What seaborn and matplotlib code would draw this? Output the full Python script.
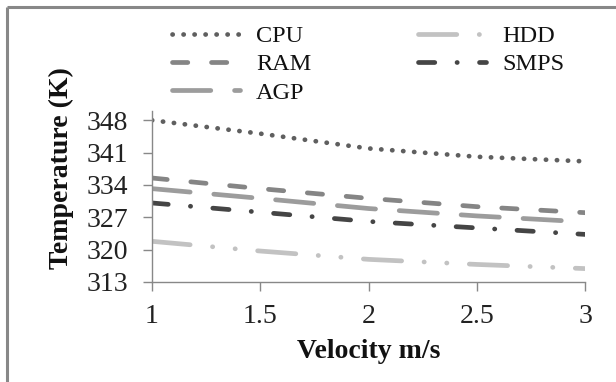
import matplotlib
matplotlib.use("Agg")
import matplotlib.pyplot as plt
import seaborn as sns
import pandas as pd
from matplotlib.lines import Line2D

velocity = [1.0, 1.5, 2.0, 2.5, 3.0]
cpu = [348.0, 345.1, 341.9, 340.1, 339.1]
ram = [335.5, 333.2, 331.1, 329.3, 328.0]
agp = [333.2, 331.1, 328.9, 327.3, 326.0]
smps = [330.1, 328.1, 326.1, 324.7, 323.3]
hdd = [321.8, 319.7, 317.9, 316.8, 315.9]
series_names = ["CPU", "RAM", "AGP", "HDD", "SMPS"]
series_values = [cpu, ram, agp, hdd, smps]
y_ticks = [313, 320, 327, 334, 341, 348]
x_ticks = [1, 1.5, 2, 2.5, 3]

colors = {"CPU": "#5f5f5f", "RAM": "#858585", "AGP": "#9c9c9c",
          "HDD": "#c2c2c2", "SMPS": "#454545"}
dashes = {"CPU": (0.05, 2.28),
          "RAM": (3.24, 5.02),
          "AGP": (8.11, 5.03),
          "HDD": (8.11, 4.75, 0.05, 4.75, 0.05, 4.75),
          "SMPS": (3.45, 4.71, 0.05, 4.71)}

rows = []
for name, vals in zip(series_names, series_values):
    for v, t in zip(velocity, vals):
        rows.append({"Velocity": v, "Temperature": t, "Series": name})
df = pd.DataFrame(rows)

sns.set_theme(style="ticks")
plt.rcParams["font.family"] = ["Liberation Serif", "DejaVu Serif"]
plt.rcParams["lines.dash_capstyle"] = "round"
plt.rcParams["lines.solid_capstyle"] = "round"

fig = plt.figure(figsize=(6.16, 3.82), dpi=100)
ax = fig.add_axes([152/616, 1-282/382, (585-152)/616, (282-111)/382])

sns.lineplot(data=df, x="Velocity", y="Temperature", hue="Series", style="Series",
             hue_order=series_names, style_order=series_names,
             palette=colors, dashes=dashes, linewidth=3.4, legend=False, ax=ax)

ax.set_xlim(1, 3)
ax.set_ylim(313, 350)
ax.set_xticks(x_ticks)
ax.set_xticklabels([f"{t:g}" for t in x_ticks])
ax.set_yticks(y_ticks)
ax.set_yticklabels([str(t) for t in y_ticks])
ax.tick_params(axis="both", labelsize=20, color="#888888", length=6.5, width=1,
               labelcolor="#222222")
ax.tick_params(axis="y", pad=11)
ax.tick_params(axis="x", pad=9)
for s in ["top", "right"]:
    ax.spines[s].set_visible(False)
for s in ["left", "bottom"]:
    ax.spines[s].set_color("#888888")
    ax.spines[s].set_linewidth(1)

ax.set_xlabel("Velocity m/s", fontsize=20, fontweight="bold", color="#111111")
ax.set_ylabel("Temperature (K)", fontsize=20, fontweight="bold", color="#111111")
ax.xaxis.set_label_coords((369-152)/(585-152), (282-352)/(282-111))
ax.yaxis.set_label_coords((61-152)/(585-152), (282-168)/(282-111))
ax.xaxis.label.set_va("center")
ax.yaxis.label.set_va("center")

handles = ax.get_lines()[:5]
leg = fig.legend(handles, series_names, loc="upper left", bbox_to_anchor=(172/616, 1-25/382),
                 ncol=2, frameon=False, fontsize=17.5, handlelength=2.8,
                 handletextpad=0.65, columnspacing=4.4, labelspacing=0.26,
                 borderpad=0, borderaxespad=0)
for t in leg.get_texts():
    t.set_color("#111111")

fig.add_artist(Line2D([7/616, 1], [1-7/382, 1-7/382], color="#888888", lw=2.2,
                      transform=fig.transFigure, solid_capstyle="butt"))
fig.add_artist(Line2D([7/616, 7/616], [0, 1-7/382], color="#888888", lw=2.2,
                      transform=fig.transFigure, solid_capstyle="butt"))

fig.savefig("out.png", dpi=100)
